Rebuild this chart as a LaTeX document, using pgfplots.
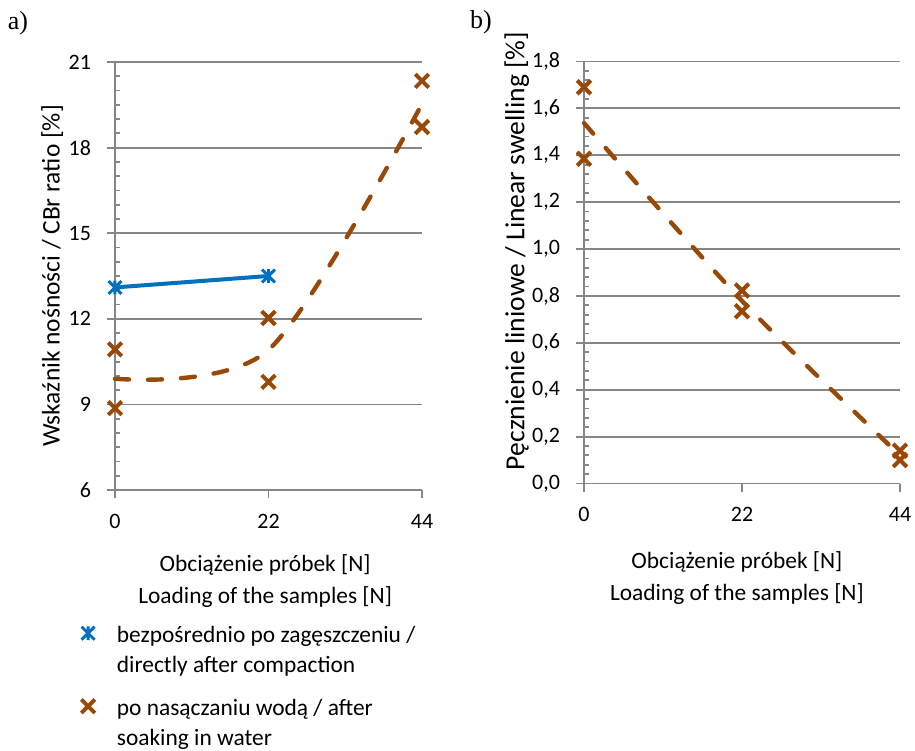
\documentclass[border=0pt]{standalone}
\usepackage{pgfplots}
\pgfplotsset{compat=1.18}
\usepackage{fontspec}
\setmainfont{Carlito}
\newfontfamily\panelfont{Liberation Serif}

\definecolor{cblue}{HTML}{0070C0}
\definecolor{cbrown}{HTML}{984807}
\definecolor{cgrid}{HTML}{868686}

% Excel-like star marker: an x with a vertical bar
\pgfdeclareplotmark{xstar}{%
  \pgfpathmoveto{\pgfqpoint{-.75\pgfplotmarksize}{-.75\pgfplotmarksize}}%
  \pgfpathlineto{\pgfqpoint{.75\pgfplotmarksize}{.75\pgfplotmarksize}}%
  \pgfpathmoveto{\pgfqpoint{-.75\pgfplotmarksize}{.75\pgfplotmarksize}}%
  \pgfpathlineto{\pgfqpoint{.75\pgfplotmarksize}{-.75\pgfplotmarksize}}%
  \pgfpathmoveto{\pgfqpoint{0pt}{-.8\pgfplotmarksize}}%
  \pgfpathlineto{\pgfqpoint{0pt}{.8\pgfplotmarksize}}%
  \pgfusepathqstroke}

\pgfplotsset{
  chart/.style={
    scale only axis,
    axis x line*=bottom, axis y line*=left,
    axis line style={cgrid, line width=0.9pt},
    tick style={cgrid, line width=0.9pt},
    tick align=inside,
    major tick length=-4.2pt,
    minor tick length=2.5pt,
    ymajorgrids, major grid style={cgrid, line width=0.9pt},
    xmin=0, xmax=44, xtick={0,22,44},
    clip=false,
    tick label style={font=\fontsize{11}{13}\selectfont},
    xticklabel style={yshift=-8.5pt},
    yticklabel style={xshift=-8.5pt},
    xlabel style={font=\fontsize{11.7}{16}\selectfont, align=center},
    /pgf/number format/assume math mode=true,
  },
  brownx/.style={cbrown, only marks, mark=x, mark size=4.8pt, mark options={line width=2pt}},
  browndash/.style={cbrown, line width=2.2pt, dash pattern=on 7pt off 9.5pt, line cap=round, smooth, tension=0.5, forget plot},
}

\begin{document}
\begin{tikzpicture}
\useasboundingbox (0,0) rectangle (457.5pt,-375pt);

\node[font=\panelfont\fontsize{13}{15}\selectfont] at (9pt,-11.5pt) {a)};
\node[font=\panelfont\fontsize{13}{15}\selectfont] at (240.5pt,-11pt) {b)};

% a) CBR ratio
\begin{axis}[chart,
  at={(57.5pt,-245pt)}, anchor=south west,
  width=153.5pt, height=214pt,
  ymin=6, ymax=21, ytick={6,9,12,15,18,21}, minor y tick num=5,
  xlabel={Obciążenie próbek [N]\\Loading of the samples [N]},
  ylabel={Wskaźnik nośności / CBr ratio [\%]},
  xlabel style={at={(axis description cs:0.489,-0.213)}, anchor=center},
  ylabel style={at={(axis description cs:-0.205,0.5)}, anchor=center, font=\fontsize{12.7}{15}\selectfont},
  legend style={at={(axis description cs:-0.111,-0.301)}, anchor=north west,
    draw=none, fill=none, inner sep=0pt, row sep=22.5pt, column sep=10pt,
    nodes={inner sep=1pt}, font=\fontsize{11.7}{15}\selectfont},
  legend cell align=left,
  legend image post style={only marks},
]
\addplot[cblue, line width=2pt, mark=xstar, mark size=4.3pt, mark options={line width=1.5pt}]
  coordinates {(0,13.1) (22,13.5)};
\addlegendentry{\begin{tabular}[t]{@{}l@{}}bezpośrednio po zagęszczeniu /\\directly after compaction\end{tabular}}
\addplot[brownx] coordinates {(0,10.93) (0,8.87) (22,12.03) (22,9.79) (44,20.34) (44,18.72)};
\addlegendentry{\begin{tabular}[t]{@{}l@{}}po nasączaniu wodą / after\\soaking in water\end{tabular}}
\addplot[browndash] coordinates {(0,9.9) (22,10.91) (44,19.53)};
\end{axis}

% b) linear swelling
\begin{axis}[chart,
  at={(292pt,-241.75pt)}, anchor=south west,
  width=158pt, height=211pt,
  ymin=0, ymax=1.8, ytick={0,0.2,0.4,0.6,0.8,1,1.2,1.4,1.6,1.8}, minor y tick num=4,
  yticklabel style={/pgf/number format/.cd, fixed, fixed zerofill, precision=1, use comma, /tikz/.cd},
  xlabel={Obciążenie próbek [N]\\Loading of the samples [N]},
  ylabel={Pęcznienie liniowe / Linear swelling [\%]},
  xlabel style={at={(axis description cs:0.484,-0.224)}, anchor=center},
  ylabel style={at={(axis description cs:-0.213,0.551)}, anchor=center, font=\fontsize{13.8}{16}\selectfont},
]
\addplot[brownx] coordinates {(0,1.69) (0,1.385) (22,0.823) (22,0.735) (44,0.14) (44,0.10)};
\addplot[browndash] coordinates {(0,1.5375) (22,0.779) (44,0.12)};
\end{axis}
\end{tikzpicture}
\end{document}
